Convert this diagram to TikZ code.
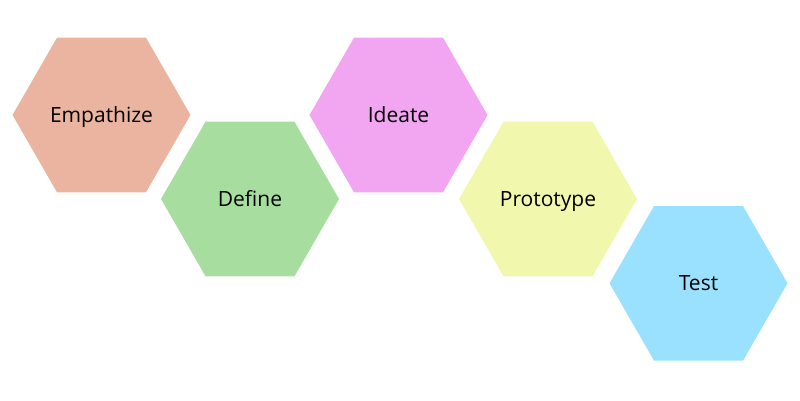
\documentclass[tikz,border=0pt]{standalone}
\usepackage{fontspec}
\setmainfont{Open Sans}
\definecolor{cEmp}{HTML}{EBB4A0}
\definecolor{cDef}{HTML}{A7DD9F}
\definecolor{cIde}{HTML}{F2A5F1}
\definecolor{cPro}{HTML}{F1F8AE}
\definecolor{cTes}{HTML}{9AE1FF}
\tikzset{
  hexlabel/.style={font=\fontsize{21}{24}\selectfont, text=black, inner sep=0pt, anchor=base}
}
\newcommand{\hexshape}[4]{%
  \fill[#4] ({#1+89},{-#2}) -- ({#1+44.5},{-#2+77.3}) -- ({#1-44.5},{-#2+77.3}) -- ({#1-89},{-#2}) -- ({#1-44.5},{-#2-77.3}) -- ({#1+44.5},{-#2-77.3}) -- cycle;
  \node[hexlabel] (#3) at (#1,{-#2-7}) {#3};%
}
\begin{document}
\begin{tikzpicture}[x=1pt,y=1pt]
\useasboundingbox (0,0) rectangle (800,-400);
\hexshape{101.5}{115}{Empathize}{cEmp}
\hexshape{250}{199}{Define}{cDef}
\hexshape{398.5}{115}{Ideate}{cIde}
\hexshape{548}{199}{Prototype}{cPro}
\hexshape{698.5}{283.3}{Test}{cTes}
\end{tikzpicture}
\end{document}
